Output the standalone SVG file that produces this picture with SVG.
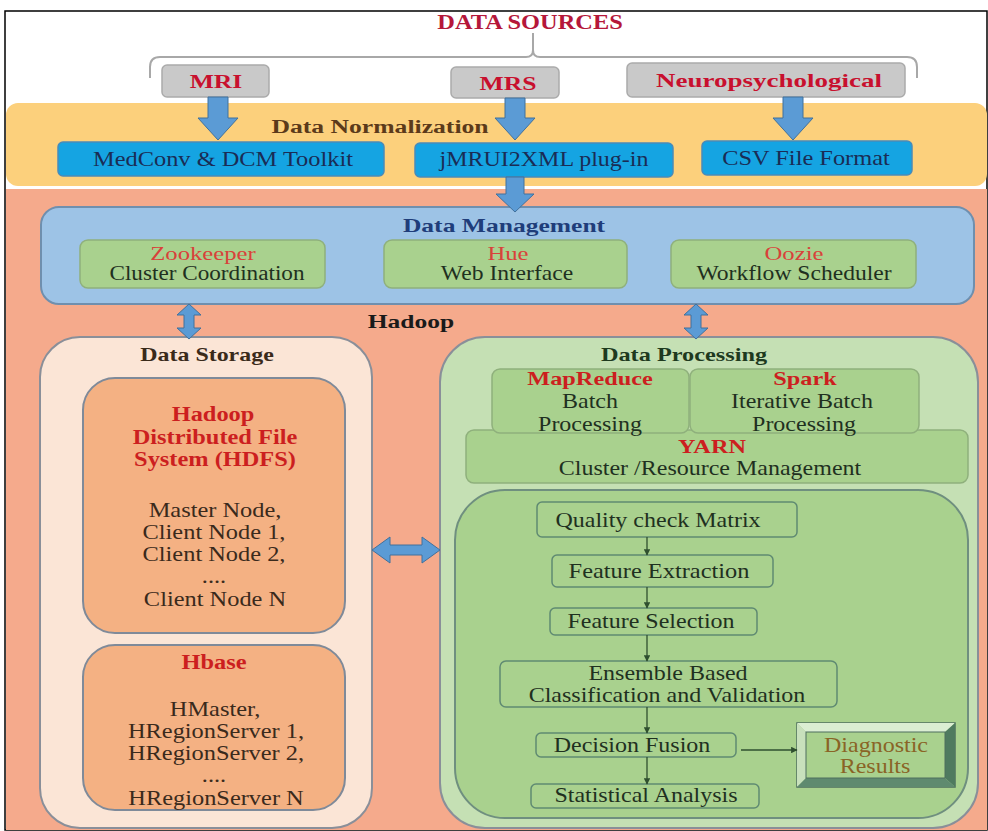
<svg xmlns="http://www.w3.org/2000/svg" width="988" height="831" viewBox="0 0 988 831">
<defs>
<style>
text{font-family:"Liberation Serif","Times New Roman",serif;text-anchor:middle;}
.h{font-weight:bold;font-size:19px;}
.t{font-size:20px;}
.rt{font-size:19px;fill:#d9413a;}
.rb{font-weight:bold;font-size:20px;fill:#cc1f1f;}
.nv{fill:#1a2c55;}
.dg{fill:#1f301f;}
.br{fill:#3a2a1c;}
.gray{fill:#c9c9c9;stroke:#ababab;stroke-width:1.5;}
.blue{fill:#15a4e2;stroke:#4a8ab8;stroke-width:1.5;}
.grn{fill:#a9d18e;stroke:#8fb07c;stroke-width:1.5;}
.step{fill:#a9d18e;stroke:#5f8a72;stroke-width:1.5;}
.arr{fill:#5b9bd5;stroke:#41719c;stroke-width:1;}
.orng{fill:#f4b183;stroke:#7f8a99;stroke-width:2;}
</style>
<marker id="ah" viewBox="0 0 10 10" refX="9" refY="5" markerWidth="5" markerHeight="5" orient="auto"><path d="M0,0 L10,5 L0,10 z" fill="#2f4f2f"/></marker>
</defs>
<rect x="0" y="0" width="988" height="831" fill="#ffffff"/>
<rect x="5" y="11" width="982" height="819" fill="#ffffff" stroke="#000" stroke-width="1.5"/>

<!-- Data Sources header -->
<g id="data-sources">
<text transform="translate(530,29) scale(1.22,1)" font-size="20" font-weight="bold" fill="#b5173a">DATA SOURCES</text>
<path d="M533,33 L533,50 Q533,57 526,57 L160,57 Q150,57 150,67 L150,78 M533,50 Q533,57 540,57 L907,57 Q917,57 917,67 L917,78" fill="none" stroke="#a8a8a8" stroke-width="2"/>
</g>

<!-- Normalization band & Hadoop background -->
<rect x="6" y="103" width="981" height="83" rx="12" fill="#fcd07c"/>
<rect x="6" y="189" width="981" height="641" fill="#f5aa8c"/>
<text transform="translate(380,133) scale(1.35,1)" class="h" fill="#5b3a1a">Data Normalization</text>

<g id="mri"><rect class="gray" x="162" y="65" width="107" height="32" rx="5"/><text transform="translate(216,88) scale(1.35,1)" font-size="19" font-weight="bold" fill="#c8102e">MRI</text></g>
<g id="mrs"><rect class="gray" x="451" y="67" width="108" height="31" rx="5"/><text transform="translate(508,90) scale(1.35,1)" font-size="19" font-weight="bold" fill="#c8102e">MRS</text></g>
<g id="neuro"><rect class="gray" x="627" y="63" width="278" height="34" rx="5"/><text transform="translate(769,87) scale(1.42,1)" font-size="19" font-weight="bold" fill="#c8102e">Neuropsychological</text></g>

<g id="medconv"><rect class="blue" x="58" y="142" width="326" height="34" rx="5"/><text transform="translate(223,166) scale(1.22,1)" class="t nv">MedConv &amp; DCM Toolkit</text></g>
<g id="jmrui"><rect class="blue" x="415" y="143" width="258" height="34" rx="5"/><text transform="translate(544,166) scale(1.2,1)" class="t nv">jMRUI2XML plug-in</text></g>
<g id="csv"><rect class="blue" x="702" y="141" width="210" height="34" rx="5"/><text transform="translate(806,165) scale(1.22,1)" class="t nv">CSV File Format</text></g>

<!-- Data Management -->
<g id="data-management">
<rect x="41" y="207" width="933" height="97" rx="18" fill="#9dc3e6" stroke="#6f8fae" stroke-width="2"/>
<text transform="translate(504,232) scale(1.42,1)" font-size="18" font-weight="bold" fill="#1f3d7a">Data Management</text>
</g>
<g id="zookeeper"><rect class="grn" x="80" y="240" width="245" height="48" rx="8"/><text transform="translate(203,260) scale(1.3,1)" class="rt">Zookeeper</text><text transform="translate(207,280) scale(1.16,1)" class="t dg">Cluster Coordination</text></g>
<g id="hue"><rect class="grn" x="384" y="240" width="243" height="48" rx="8"/><text transform="translate(508,260) scale(1.3,1)" class="rt">Hue</text><text transform="translate(507,280) scale(1.18,1)" class="t dg">Web Interface</text></g>
<g id="oozie"><rect class="grn" x="671" y="240" width="245" height="48" rx="8"/><text transform="translate(794,260) scale(1.3,1)" class="rt">Oozie</text><text transform="translate(794,280) scale(1.18,1)" class="t dg">Workflow Scheduler</text></g>

<text transform="translate(411,328) scale(1.42,1)" font-size="18" font-weight="bold" fill="#1a1a1a">Hadoop</text>

<!-- Data Storage -->
<g id="data-storage">
<rect x="40" y="337" width="332" height="491" rx="40" fill="#fbe5d6" stroke="#8a8f99" stroke-width="2"/>
<text transform="translate(207,361) scale(1.33,1)" font-size="18" font-weight="bold" fill="#3a2a1a">Data Storage</text>
</g>
<g id="hdfs">
<rect class="orng" x="83" y="378" width="262" height="255" rx="32"/>
<text transform="translate(213,421) scale(1.22,1)" class="rb">Hadoop</text>
<text transform="translate(215,444) scale(1.22,1)" class="rb">Distributed File</text>
<text transform="translate(215,466) scale(1.22,1)" class="rb">System (HDFS)</text>
<text transform="translate(215,517) scale(1.22,1)" class="t br">Master Node,</text>
<text transform="translate(214,539) scale(1.22,1)" class="t br">Client Node 1,</text>
<text transform="translate(214,561) scale(1.22,1)" class="t br">Client Node 2,</text>
<text transform="translate(214,583) scale(1.22,1)" class="t br">....</text>
<text transform="translate(215,606) scale(1.22,1)" class="t br">Client Node N</text>
</g>
<g id="hbase">
<rect class="orng" x="83" y="645" width="262" height="165" rx="32"/>
<text transform="translate(214,669) scale(1.22,1)" class="rb">Hbase</text>
<text transform="translate(215,716) scale(1.22,1)" class="t br">HMaster,</text>
<text transform="translate(216,738) scale(1.22,1)" class="t br">HRegionServer 1,</text>
<text transform="translate(216,760) scale(1.22,1)" class="t br">HRegionServer 2,</text>
<text transform="translate(214,782) scale(1.22,1)" class="t br">....</text>
<text transform="translate(216,805) scale(1.22,1)" class="t br">HRegionServer N</text>
</g>

<!-- Data Processing -->
<g id="data-processing">
<rect x="440" y="337" width="538" height="491" rx="45" fill="#c5e0b4" stroke="#8a8f99" stroke-width="2"/>
<text transform="translate(684,361) scale(1.35,1)" font-size="18" font-weight="bold" fill="#1e3a1e">Data Processing</text>
</g>
<g id="yarn"><rect class="grn" x="466" y="430" width="502" height="53" rx="8"/><text transform="translate(712,453) scale(1.28,1)" font-size="19" font-weight="bold" fill="#cc1f1f">YARN</text><text transform="translate(710,475) scale(1.2,1)" class="t dg">Cluster /Resource Management</text></g>
<g id="mapreduce"><rect class="grn" x="492" y="369" width="197" height="64" rx="8"/><text transform="translate(590,385) scale(1.28,1)" font-size="19" font-weight="bold" fill="#cc1f1f">MapReduce</text><text transform="translate(590,408) scale(1.2,1)" class="t dg">Batch</text><text transform="translate(590,431) scale(1.2,1)" class="t dg">Processing</text></g>
<g id="spark"><rect class="grn" x="690" y="369" width="229" height="64" rx="8"/><text transform="translate(805,385) scale(1.28,1)" font-size="19" font-weight="bold" fill="#cc1f1f">Spark</text><text transform="translate(802,408) scale(1.2,1)" class="t dg">Iterative Batch</text><text transform="translate(804,431) scale(1.2,1)" class="t dg">Processing</text></g>

<g id="analytics"><rect x="455" y="490" width="513" height="328" rx="50" fill="#a9d18e" stroke="#6f8f7f" stroke-width="2"/></g>
<g id="quality"><rect class="step" x="537" y="502" width="260" height="35" rx="5"/><text transform="translate(658,527) scale(1.2,1)" class="t dg">Quality check Matrix</text></g>
<g id="fextract"><rect class="step" x="552" y="555" width="221" height="32" rx="5"/><text transform="translate(659,578) scale(1.22,1)" class="t dg">Feature Extraction</text></g>
<g id="fselect"><rect class="step" x="550" y="608" width="207" height="27" rx="5"/><text transform="translate(651,628) scale(1.2,1)" class="t dg">Feature Selection</text></g>
<g id="ensemble"><rect class="step" x="500" y="661" width="337" height="46" rx="6"/><text transform="translate(668,680) scale(1.2,1)" class="t dg">Ensemble Based</text><text transform="translate(667,702) scale(1.2,1)" class="t dg">Classification and Validation</text></g>
<g id="fusion"><rect class="step" x="536" y="733" width="200" height="24" rx="5"/><text transform="translate(632,752) scale(1.2,1)" class="t dg">Decision Fusion</text></g>
<g id="stats"><rect class="step" x="531" y="784" width="228" height="24" rx="5"/><text transform="translate(646,802) scale(1.2,1)" class="t dg">Statistical Analysis</text></g>
<g id="diagnostic">
<rect x="797" y="723" width="158" height="64" fill="#a9d18e" stroke="#4f6f5f" stroke-width="1.5"/>
<polygon points="797,723 955,723 945,732 806,732" fill="#dbeed2"/>
<polygon points="797,723 806,732 806,778 797,787" fill="#c8e0bc"/>
<polygon points="955,723 955,787 945,778 945,732" fill="#4f7a5f"/>
<polygon points="797,787 955,787 945,778 806,778" fill="#5f8a6f"/>
<rect x="806" y="732" width="139" height="46" fill="#a9d18e" stroke="#4f6f5f" stroke-width="1"/>
<text transform="translate(876,752) scale(1.2,1)" class="t" fill="#8a6426">Diagnostic</text>
<text transform="translate(875,773) scale(1.2,1)" class="t" fill="#8a6426">Results</text>
</g>

<!-- Connectors -->
<g id="connectors">
<polygon class="arr" points="208,97 228,97 228,118 238,118 218,140 198,118 208,118"/>
<polygon class="arr" points="505,98 525,98 525,118 535,118 515,140 495,118 505,118"/>
<polygon class="arr" points="783,97 803,97 803,118 813,118 793,140 773,118 783,118"/>
<polygon class="arr" points="506,177 524,177 524,194 534,194 515,212 496,194 506,194"/>
<polygon class="arr" points="189,304 201,315 194,315 194,328 201,328 189,339 177,328 184,328 184,315 177,315"/>
<polygon class="arr" points="696,304 708,315 701,315 701,328 708,328 696,339 684,328 691,328 691,315 684,315"/>
<polygon class="arr" points="372,550 390,537 390,545 422,545 422,537 440,550 422,563 422,555 390,555 390,563"/>
<g stroke="#2f4f2f" stroke-width="1.3" fill="none" marker-end="url(#ah)">
<line x1="647" y1="537" x2="647" y2="555"/>
<line x1="647" y1="587" x2="647" y2="608"/>
<line x1="647" y1="635" x2="647" y2="661"/>
<line x1="647" y1="707" x2="647" y2="733"/>
<line x1="647" y1="757" x2="647" y2="784"/>
<line x1="741" y1="750" x2="797" y2="750"/>
</g>
</g>
</svg>
